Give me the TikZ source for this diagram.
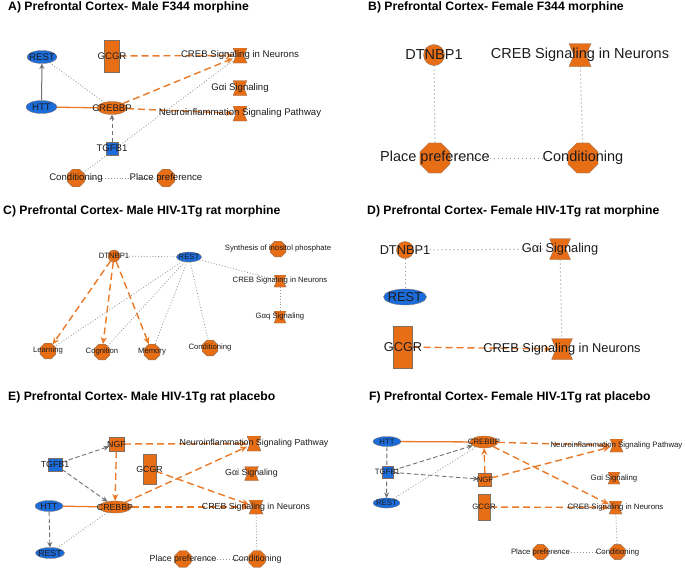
\documentclass[tikz,border=0pt]{standalone}
\usepackage{fontspec}
\setmainfont{Liberation Sans}
\usetikzlibrary{shapes.geometric,arrows.meta,calc,backgrounds}
\definecolor{ornode}{RGB}{232,110,22}
\definecolor{blnode}{RGB}{28,108,218}
\definecolor{oredge}{RGB}{234,122,40}
\definecolor{gredge}{RGB}{112,112,112}
\definecolor{dotc}{RGB}{150,150,150}
\definecolor{txt}{RGB}{28,28,28}
\definecolor{bord}{RGB}{130,110,95}
\begin{document}
\begin{tikzpicture}[x=1pt,y=-1pt,
  base/.style={inner sep=0pt, outer sep=0pt, draw=bord, line width=0.3pt},
  oct/.style={base, regular polygon, regular polygon sides=8, fill=ornode, minimum size=#1},
  circ/.style={base, circle, fill=ornode, minimum size=#1},
  ell/.style n args={2}{base, ellipse, fill=blnode, minimum width=#1, minimum height=#2},
  oell/.style n args={2}{base, ellipse, fill=ornode, minimum width=#1, minimum height=#2},
  box/.style n args={3}{base, rectangle, fill=#1, minimum width=#2, minimum height=#3},
  hg/.style n args={2}{rectangle, inner sep=0pt, outer sep=0pt, minimum width=#1, minimum height=#2,
    path picture={\path[fill=ornode, draw=bord, line width=0.3pt]
      (path picture bounding box.north west) -- (path picture bounding box.north east)
      -- ($(path picture bounding box.east)!0.22!(path picture bounding box.west)$)
      -- (path picture bounding box.south east) -- (path picture bounding box.south west)
      -- ($(path picture bounding box.west)!0.22!(path picture bounding box.east)$) -- cycle;}},
  ttl/.style={anchor=west, inner sep=0pt, text=black, font=\bfseries\fontsize{12.2}{14}\selectfont},
  fa/.style={inner sep=0pt, text=txt, font=\fontsize{9.6}{11}\selectfont},
  fb/.style={inner sep=0pt, text=txt, font=\fontsize{14.5}{16}\selectfont},
  fc/.style={inner sep=0pt, text=txt, font=\fontsize{7.7}{9}\selectfont},
  fd/.style={inner sep=0pt, text=txt, font=\fontsize{12.8}{14}\selectfont},
  fe/.style={inner sep=0pt, text=txt, font=\fontsize{8.8}{10}\selectfont},
  ff/.style={inner sep=0pt, text=txt, font=\fontsize{7.8}{9}\selectfont},
  oa/.style={draw=oredge, line width=1.4pt, dash pattern=on 7pt off 4pt, -{Stealth[length=7pt,width=6pt]}},
  os/.style={draw=oredge, line width=1.3pt},
  ga/.style={draw=gredge, line width=0.9pt, dash pattern=on 4.5pt off 2.5pt, -{Stealth[length=5.5pt,width=5pt]}},
  gs/.style={draw=gredge, line width=1pt, -{Stealth[length=5.5pt,width=5pt]}},
  dt/.style={draw=dotc, line width=0.8pt, dash pattern=on 0.9pt off 2pt},
  dtb/.style={draw=dotc, line width=1pt, dash pattern=on 1pt off 3pt}]
\useasboundingbox (0,0) rectangle (685,571);

% ---------- titles
\node[ttl] (tA) at (8,7.5) {A) Prefrontal Cortex- Male F344 morphine};
\node[ttl] (tB) at (368,7.5) {B) Prefrontal Cortex- Female F344 morphine};
\node[ttl] (tC) at (3,211) {C) Prefrontal Cortex- Male HIV-1Tg rat morphine};
\node[ttl] (tD) at (367,211) {D) Prefrontal Cortex- Female HIV-1Tg rat morphine};
\node[ttl] (tE) at (8,397) {E) Prefrontal Cortex- Male HIV-1Tg rat placebo};
\node[ttl] (tF) at (369,397) {F) Prefrontal Cortex- Female HIV-1Tg rat placebo};

% ---------- panel A
\node[ell={30}{13}, label={[fa]center:REST}] (restA) at (42,57) {};
\node[ell={31}{13}, label={[fa]center:HTT}] (httA) at (41.5,107) {};
\node[box={ornode}{15}{32}, label={[fa]center:GCGR}] (gcgrA) at (112,56) {};
\node[hg={14}{15}, label={[fa]center:CREB Signaling in Neurons}] (crebA) at (240,55.5) {};
\node[hg={14}{15}, label={[fa]center:Gαi Signaling}] (gaiA) at (240,88) {};
\node[hg={14}{15}, label={[fa]center:Neuroinflammation Signaling Pathway}] (neuroA) at (240,113.5) {};
\node[oell={30}{13}, label={[fa]center:CREBBP}] (crebbpA) at (112,108) {};
\node[box={blnode}{12}{13}, label={[fa]center:TGFB1}] (tgfA) at (112,148.5) {};
\node[oct=19, label={[fa]center:Conditioning}] (condA) at (76,178) {};
\node[oct=19, label={[fa]center:Place preference}] (placeA) at (166,178) {};

% ---------- panel B
\node[circ=21, label={[fb]center:DTNBP1}] (dtnB) at (434,55) {};
\node[hg={22}{23}, label={[fb]center:CREB Signaling in Neurons}] (crebB) at (580,55) {};
\node[oct=32.5, label={[fb]center:Place preference}] (placeB) at (435,158) {};
\node[oct=32.5, label={[fb]center:Conditioning}] (condB) at (583,158) {};

% ---------- panel C
\node[circ=12, label={[fc]center:DTNBP1}] (dtnC) at (114,256) {};
\node[ell={25}{10}, label={[fc]center:REST}] (restC) at (189,257) {};
\node[oct=17, label={[fc]center:Synthesis of inositol phosphate}] (synC) at (278,249) {};
\node[hg={12}{12}, label={[fc]center:CREB Signaling in Neurons}] (crebC) at (280,281) {};
\node[hg={12}{12}, label={[fc]center:Gαq Signaling}] (gaqC) at (280,317) {};
\node[oct=17, label={[fc]center:Learning}] (learnC) at (48,351) {};
\node[oct=17, label={[fc]center:Cognition}] (cognC) at (102,352) {};
\node[oct=17, label={[fc]center:Memory}] (memC) at (152,352) {};
\node[oct=17, label={[fc]center:Conditioning}] (condC) at (210,348) {};

% ---------- panel D
\node[circ=17, label={[fd]center:DTNBP1}] (dtnD) at (405,250) {};
\node[hg={21}{21}, label={[fd]center:Gαi Signaling}] (gaiD) at (560,249) {};
\node[ell={43}{16}, label={[fd]center:REST}] (restD) at (405,297) {};
\node[box={ornode}{19}{42}, label={[fd]center:GCGR}] (gcgrD) at (403,347) {};
\node[hg={21}{21}, label={[fd]center:CREB Signaling in Neurons}] (crebD) at (562,349) {};

% ---------- panel E
\node[box={ornode}{15}{14}, label={[fe]center:NGF}] (ngfE) at (116.5,444) {};
\node[box={blnode}{14}{13}, label={[fe]center:TGFB1}] (tgfE) at (55,464.5) {};
\node[box={ornode}{13}{30}, label={[fe]center:GCGR}] (gcgrE) at (149.5,469) {};
\node[hg={14}{15}, label={[fe]center:Neuroinflammation Signaling Pathway}] (neuroE) at (254,443.5) {};
\node[hg={14}{14}, label={[fe]center:Gαi Signaling}] (gaiE) at (251.5,473.5) {};
\node[ell={28}{11}, label={[fe]center:HTT}] (httE) at (49,506) {};
\node[oell={33}{12}, label={[fe]center:CREBBP}] (crebbpE) at (115,507) {};
\node[hg={14}{14}, label={[fe]center:CREB Signaling in Neurons}] (crebE) at (256,507) {};
\node[ell={29}{11}, label={[fe]center:REST}] (restE) at (50,553) {};
\node[oct=18, label={[fe]center:Place preference}] (placeE) at (183,559) {};
\node[oct=18, label={[fe]center:Conditioning}] (condE) at (257,559) {};

% ---------- panel F
\node[ell={28}{10}, label={[ff]center:HTT}] (httF) at (387,441.5) {};
\node[oell={28}{12}, label={[ff]center:CREBBP}] (crebbpF) at (484,442) {};
\node[hg={13}{13}, label={[ff]center:Neuroinflammation Signaling Pathway}] (neuroF) at (616.5,445.5) {};
\node[box={blnode}{11}{12}, label={[ff]center:TGFB1}] (tgfF) at (387.5,472) {};
\node[box={ornode}{13}{13}, label={[ff]center:NGF}] (ngfF) at (485,479.5) {};
\node[hg={12}{12}, label={[ff]center:Gαi Signaling}] (gaiF) at (614,478) {};
\node[ell={27}{10}, label={[ff]center:REST}] (restF) at (386.5,503) {};
\node[box={ornode}{12}{26}, label={[ff]center:GCGR}] (gcgrF) at (484,507) {};
\node[hg={13}{13}, label={[ff]center:CREB Signaling in Neurons}] (crebF) at (615.5,507.5) {};
\node[oct=16.5, label={[ff]center:Place preference}] (placeF) at (540.5,552) {};
\node[oct=16.5, label={[ff]center:Conditioning}] (condF) at (617.5,552) {};

% ---------- connectors
\begin{scope}[on background layer]
\fill[white] (0,0) rectangle (685,571);
% A
\draw[gs] (httA) -- (restA);
\draw[os] (httA) -- (crebbpA);
\draw[dt] (restA) -- (crebbpA);
\draw[ga] (tgfA) -- (crebbpA);
\draw[oa] (gcgrA) -- (crebA);
\draw[oa] (crebbpA) -- (crebA);
\draw[oa] (crebbpA) -- (neuroA);
\draw[dt] (condA) -- (crebA);
\draw[dt] (condA) -- (placeA);
% B
\draw[dtb] (dtnB) -- (placeB);
\draw[dtb] (crebB) -- (condB);
\draw[dtb] (placeB) -- (condB);
% C
\draw[oa] (dtnC) -- (learnC);
\draw[oa] (dtnC) -- (cognC);
\draw[oa] (dtnC) -- (memC);
\draw[dt] (restC) -- (dtnC);
\draw[dt] (restC) -- (learnC);
\draw[dt] (restC) -- (cognC);
\draw[dt] (restC) -- (memC);
\draw[dt] (restC) -- (condC);
\draw[dt] (restC) -- (crebC);
\draw[dt] (crebC) -- (gaqC);
% D
\draw[dtb] (dtnD) -- (gaiD);
\draw[dtb] (dtnD) -- (restD);
\draw[dtb] (gaiD) -- (crebD);
\draw[oa] (gcgrD) -- (crebD);
% E
\draw[ga] (tgfE) -- (ngfE);
\draw[ga] (tgfE) -- (crebbpE);
\draw[oa] (ngfE) -- (crebbpE);
\draw[oa] (ngfE) -- (neuroE);
\draw[oa] (crebbpE) -- (neuroE);
\draw[oa] (gcgrE) -- (crebE);
\draw[oa] (crebbpE) -- (crebE);
\draw[os] (httE) -- (crebbpE);
\draw[ga] (httE) -- (restE);
\draw[dt] (restE) -- (crebbpE);
\draw[dt] (crebE) -- (condE);
\draw[dt] (placeE) -- (condE);
% F
\draw[os] (httF) -- (crebbpF);
\draw[oa] (crebbpF) -- (neuroF);
\draw[oa] (crebbpF) -- (crebF);
\draw[oa] (ngfF) -- (crebbpF);
\draw[oa] (ngfF) -- (neuroF);
\draw[oa] (gcgrF) -- (crebF);
\draw[ga] (tgfF) -- (crebbpF);
\draw[ga] (tgfF) -- (ngfF);
\draw[ga] (httF) -- (restF);
\draw[dt] (restF) -- (crebbpF);
\draw[dt] (crebF) -- (condF);
\draw[dt] (placeF) -- (condF);
\end{scope}
\end{tikzpicture}
\end{document}
